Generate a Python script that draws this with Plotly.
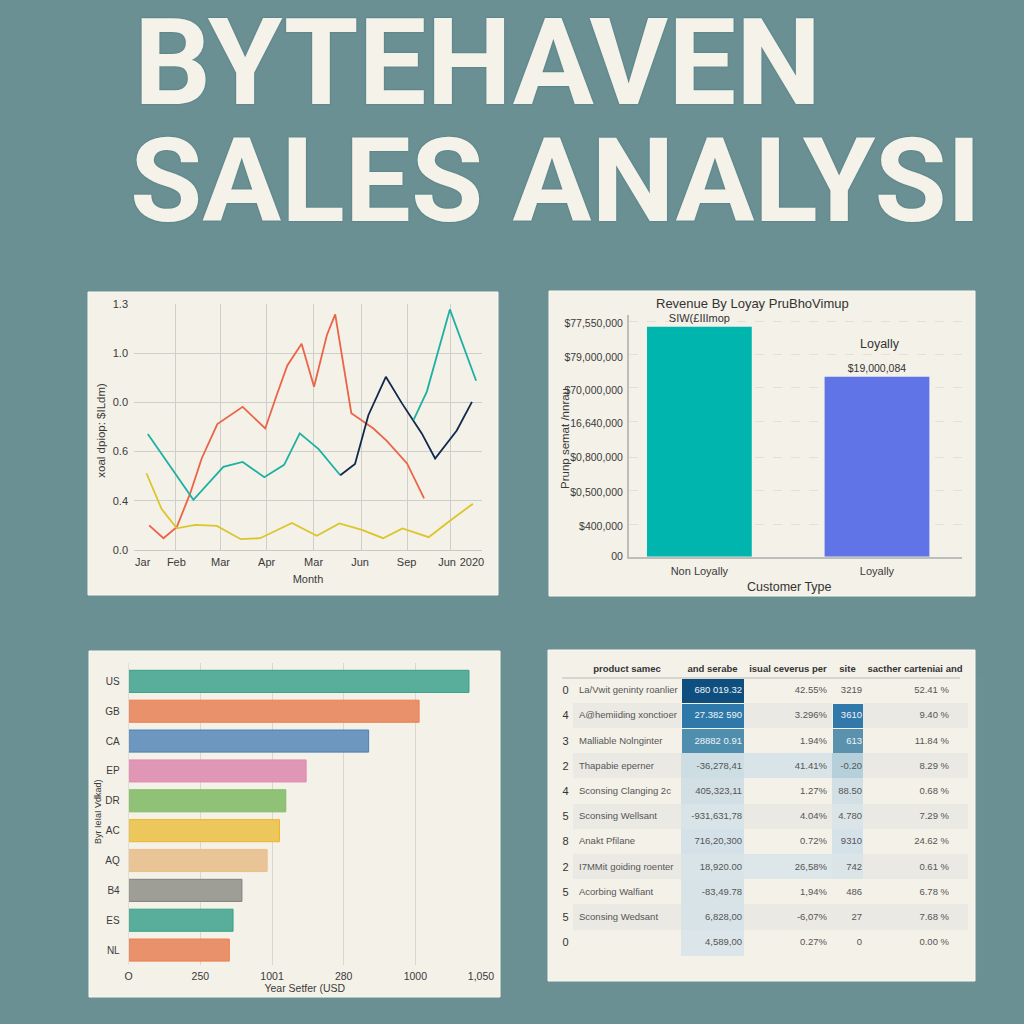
import plotly.graph_objects as go

W = H = 1024
BG = "#6a9094"
PANEL = "#f4f1e8"
INK = "#3a3a3a"
SANS = "Liberation Sans"

# ---------- title ----------
title_lines = ["BYTEHAVEN", "SALES ANALYSI"]

# ---------- line chart ----------
line_yticks = ["0.0", "0.4", "0.6", "0.0", "1.0", "1.3"]
line_ypos = [0, 1, 2, 3, 4, 5]
month_labels = ["Jar", "Feb", "Mar", "Apr", "Mar", "Jun", "Sep", "Jun", "2020"]
month_pos = [0.19, 0.92, 1.88, 2.88, 3.9, 4.91, 5.92, 6.8, 7.34]
month_grid = [0.9, 1.88, 2.88, 3.9, 4.93, 5.93, 6.87, 7.56]

red_x = [0.33, 0.64, 0.93, 1.22, 1.47, 1.81, 2.36, 2.85, 3.10, 3.33, 3.64, 3.91, 4.19, 4.37, 4.72, 5.20, 5.49, 5.93, 6.30]
red_y = [0.50, 0.24, 0.47, 1.15, 1.86, 2.56, 2.91, 2.47, 3.15, 3.75, 4.19, 3.32, 4.37, 4.79, 2.78, 2.47, 2.22, 1.76, 1.05]
teal_x = [0.30, 1.29, 1.94, 2.36, 2.83, 3.26, 3.60, 4.01, 4.48]
teal_y = [2.36, 1.02, 1.69, 1.79, 1.48, 1.73, 2.37, 2.05, 1.52]
navy_x = [4.48, 4.80, 5.09, 5.47, 5.82, 6.07, 6.25, 6.54, 7.01, 7.34]
navy_y = [1.52, 1.75, 2.74, 3.52, 2.98, 2.61, 2.37, 1.86, 2.43, 3.01]
teal2_x = [6.07, 6.36, 6.86, 7.43]
teal2_y = [2.64, 3.22, 4.89, 3.44]
yellow_x = [0.27, 0.60, 0.93, 1.33, 1.80, 2.32, 2.74, 3.43, 3.97, 4.46, 4.95, 5.41, 5.83, 6.40, 6.87, 7.36]
yellow_y = [1.56, 0.83, 0.44, 0.51, 0.49, 0.22, 0.24, 0.55, 0.29, 0.54, 0.41, 0.24, 0.44, 0.26, 0.60, 0.94]

# ---------- loyalty bars ----------
loyal_cats = ["Non Loyally", "Loyally"]
loyal_vals = [6.90, 5.40]
loyal_text = ["SIW(£IIImop", "$19,000,084"]
loyal_colors = ["#00b5ad", "#6074e8"]
loyal_ticks = ["00", "$400,000", "$0,500,000", "$0,800,000", "16,640,000", "$70,000,000", "$79,000,000", "$77,550,000"]
loyal_tickpos = [0, 0.9, 1.93, 2.97, 3.99, 4.99, 5.98, 7.0]
loyal_grid = [0.98, 2.0, 2.98, 4.07, 5.07, 6.07, 7.07]

# ---------- country bars ----------
countries = ["US", "GB", "CA", "EP", "DR", "AC", "AQ", "B4", "ES", "NL"]
country_vals = [1187, 1013, 837, 619, 548, 526, 483, 395, 364, 351]
country_fill = ["#58ae9b", "#e8916a", "#6e97c0", "#e096b5", "#8fc276", "#ecc75c", "#e9c496", "#9e9d96", "#58ae9b", "#e8916a"]
country_edge = ["#36a088", "#ee7f50", "#4a7fb5", "#e28db3", "#82bd66", "#f0b428", "#ebbf88", "#808080", "#36a088", "#ee7f50"]
country_tickpos = [0, 250, 500, 750, 1000, 1229]
country_ticks = ["O", "250", "1001", "280", "1000", "1,050"]

# ---------- table ----------
tbl_header = ["", "product samec", "and serabe", "isual ceverus per", "site", "sacther carteniai and"]
tbl_index = ["0", "4", "3", "2", "4", "5", "8", "2", "5", "5", "0"]
tbl_name = ["La/Vwit geninty roanlier", "A@hemiiding xonctioer", "Malliable Nolnginter", "Thapabie eperner",
            "Sconsing Clanging 2c", "Sconsing Wellsant", "Anakt Pfilane", "I7MMit goiding roenter",
            "Acorbing Walfiant", "Sconsing Wedsant", ""]
tbl_rev = ["680 019.32", "27.382 590", "28882 0.91", "-36,278,41", "405,323,11", "-931,631,78",
           "716,20,300", "18,920.00", "-83,49.78", "6,828,00", "4,589,00"]
tbl_per = ["42.55%", "3.296%", "1.94%", "41.41%", "1.27%", "4.04%", "0.72%", "26,58%", "1,94%", "-6,07%", "0.27%"]
tbl_site = ["3219", "3610", "613", "-0.20", "88.50", "4.780", "9310", "742", "486", "27", "0"]
tbl_last = ["52.41 %", "9.40 %", "11.84 %", "8.29 %", "0.68 %", "7.29 %", "24.62 %", "0.61 %", "6.78 %", "7.68 %", "0.00 %"]

BAND = "#ebe9e3"
band_col = [PANEL if i % 2 == 0 else BAND for i in range(10)] + [PANEL]
fill_idx = [PANEL] * 11
fill_rev = ["#0f4f80", "#2e78aa", "#4f8ead", "#ccdde4", "#d2e0e6", "#d8e4e8", "#d5e1e8", "#d8e4e8", "#d8e3e8", "#d8e3e8", "#dbe5ea"]
fill_per = list(band_col)
fill_per[3] = "#d8e4e8"
fill_per[7] = "#dde6e8"
fill_site = [PANEL, "#3279ab", "#5a92ad", "#b5cfdb", "#d2e0e6", "#dbe5e8", "#d6e2e9", "#dbe5e8", PANEL, BAND, PANEL]
line_rev = [PANEL, PANEL, PANEL] + fill_rev[3:]
line_site = [PANEL, PANEL, PANEL] + fill_site[3:]


def nb(items):
    # table cells wrap at ordinary spaces, so keep each one on a single line
    return [s.replace(" ", "\u00a0") for s in items]


def px(x0, x1):
    return [x0 / W, x1 / W]


def py(top, bottom):
    return [1 - bottom / H, 1 - top / H]


fig = go.Figure()

line_series = [
    (red_x, red_y, "#ea6448"),
    (teal_x, teal_y, "#1fb0a3"),
    (navy_x, navy_y, "#10294d"),
    (teal2_x, teal2_y, "#1fb0a3"),
    (yellow_x, yellow_y, "#dcc52b"),
]
for xs, ys, col in line_series:
    fig.add_trace(go.Scatter(x=xs, y=ys, mode="lines", line=dict(color=col, width=1.8), xaxis="x", yaxis="y", showlegend=False))

fig.add_trace(go.Bar(x=[0, 1], y=loyal_vals, width=0.59, marker=dict(color=loyal_colors, line=dict(width=0)),
                     text=loyal_text, textposition="outside", cliponaxis=False,
                     textfont=dict(family=SANS, size=[11, 10.5], color="#333"), xaxis="x2", yaxis="y2", showlegend=False))

fig.add_trace(go.Bar(x=country_vals, y=countries, orientation="h", width=0.74,
                     marker=dict(color=country_fill, line=dict(color=country_edge, width=1)),
                     xaxis="x3", yaxis="y3", showlegend=False))

fig.add_trace(go.Table(
    domain=dict(x=px(557, 967), y=py(657, 975)),
    columnwidth=[16, 108, 63, 88, 31, 104],
    header=dict(values=nb(tbl_header), height=21, align="center", fill_color="rgba(0,0,0,0)", line_width=0,
                font=dict(family=SANS, size=9.5, color="#333", weight="bold")),
    cells=dict(values=[[""] * 11] * 6, height=25.2,
               fill_color=[fill_idx, band_col, fill_rev, fill_per, fill_site, band_col],
               line=dict(color=[fill_idx, band_col, line_rev, fill_per, line_site, band_col], width=1),
               font=dict(size=1)),
))
cell_white = ["#f0f4f6"] * 3 + ["#555"] * 8
fig.add_trace(go.Table(
    domain=dict(x=px(560, 957), y=py(657, 975)),
    columnwidth=[11, 119, 60, 85, 35, 87],
    header=dict(values=[""] * 6, height=21, fill_color="rgba(0,0,0,0)", line_width=0, font=dict(size=1)),
    cells=dict(values=[tbl_index, nb(tbl_name), nb(tbl_rev), tbl_per, tbl_site, nb(tbl_last)], height=25.2,
               align=["center", "left", "right", "right", "right", "right"],
               fill_color="rgba(0,0,0,0)", line_width=0,
               font=dict(family=SANS, size=[11, 9.5, 9.5, 9.5, 9.5, 9.5],
                         color=[["#333"] * 11, ["#555"] * 11, cell_white,
                                ["#555"] * 11, ["#555"] + ["#f0f4f6"] * 2 + ["#555"] * 8, ["#555"] * 11])),
))

axis_font = dict(family=SANS, size=11, color=INK)
title_font = dict(family=SANS, size=11, color=INK)
small_font = dict(family=SANS, size=10.5, color=INK)
tiny_font = dict(family=SANS, size=10, color=INK)

panels = [(88, 292, 498, 595), (549, 291, 975, 596), (89, 651, 500, 997), (548, 650, 975, 981)]
shapes = [dict(type="rect", xref="paper", yref="paper", x0=a / W, x1=c / W, y0=1 - d / H, y1=1 - b / H,
               fillcolor=PANEL, line=dict(color="#f9f8f3", width=1), layer="below") for a, b, c, d in panels]
shapes.append(dict(type="line", xref="paper", yref="paper", x0=562 / W, x1=960 / W, y0=1 - 678 / H, y1=1 - 678 / H,
                   line=dict(color="#b9b9b5", width=1.2), layer="above"))


def note(text, x, y, size, angle=0, color="#333", family=SANS, **kw):
    return dict(text=text, x=x / W, y=1 - y / H, xref="paper", yref="paper", xanchor="center", yanchor="middle",
                showarrow=False, textangle=angle, font=dict(family=family, size=size, color=color, **kw))


annotations = [
    dict(text=title_lines[0], x=132 / W, y=1 - 62 / H, xref="paper", yref="paper", xanchor="left", yanchor="middle",
         showarrow=False, font=dict(family="Roboto", size=120.8, color="#f5f2e9", weight=700, shadow="0 0 2px #3f7378")),
    dict(text=title_lines[1], x=128 / W, y=1 - 180.5 / H, xref="paper", yref="paper", xanchor="left", yanchor="middle",
         showarrow=False, font=dict(family="Roboto", size=117.5, color="#f5f2e9", weight=700, shadow="0 0 2px #3f7378")),
    note("Revenue By Loyay PruBhoVimup", 752.5, 303, 13),
    note("Loyally", 880, 343.5, 12.5),
    note("Customer Type", 789, 587, 12.5),
    note("xoal dpiop: $ILdm)", 100.7, 430, 11.5, -90, INK),
    note("Prunp semat /nnrau", 565, 439, 11.5, -90, INK),
    note("Byr IeIaI Vdkad)", 98, 812, 9, -90, INK),
]

fig.update_layout(
    width=W, height=H, margin=dict(l=0, r=0, t=0, b=0, autoexpand=False), paper_bgcolor=BG, plot_bgcolor="rgba(0,0,0,0)",
    shapes=shapes, annotations=annotations, showlegend=False,
    font=dict(family=SANS),
    xaxis=dict(domain=px(134, 482), anchor="y", range=[0, 7.558], tickmode="array", tickvals=month_pos, ticktext=month_labels,
               showgrid=False, zeroline=False, showline=True, linecolor="#c8c8c4", tickfont=axis_font, ticks="", ticklabelstandoff=2,
               minor=dict(tickmode="array", tickvals=month_grid, showgrid=True, gridcolor="#cfcfca", gridwidth=1, ticks=""),
               title=dict(text="Month", font=title_font, standoff=8)),
    yaxis=dict(domain=py(304, 550), anchor="x", range=[0, 5], tickmode="array", tickvals=line_ypos, ticktext=line_yticks,
               showgrid=True, gridcolor="#cfcfca", zeroline=False, tickfont=axis_font, ticks="", ticklabelstandoff=5),
    xaxis2=dict(domain=px(628.7, 961.7), anchor="y2", range=[-0.398, 1.477], tickmode="array", tickvals=[0, 1], ticktext=loyal_cats,
                showgrid=False, zeroline=False, showline=True, linecolor="#bdbdb9", linewidth=1.5, tickfont=axis_font, ticks="", ticklabelstandoff=3),
    yaxis2=dict(domain=py(315, 556.7), anchor="x2", range=[0, 7.25], tickmode="array", tickvals=loyal_tickpos, ticktext=loyal_ticks,
                showgrid=False, zeroline=False, showline=True, linecolor="#bdbdb9", linewidth=1.5, tickfont=small_font, ticks="", ticklabelstandoff=2,
                minor=dict(tickmode="array", tickvals=loyal_grid, showgrid=True, gridcolor="#e2e0d8", griddash="dash", gridwidth=1, ticks="")),
    xaxis3=dict(domain=px(128.7, 481), anchor="y3", range=[0, 1229], tickmode="array", tickvals=country_tickpos, ticktext=country_ticks,
                showgrid=True, gridcolor="#d9d7d0", zeroline=False, tickfont=small_font, ticks="", ticklabelstandoff=3,
                title=dict(text="Year Setfer (USD", font=small_font, standoff=4)),
    yaxis3=dict(domain=py(663, 965), anchor="x3", range=[9.5, -0.615], type="category", categoryorder="array", categoryarray=countries,
                showgrid=False, zeroline=False, showline=True, linecolor="#e0ded6", tickfont=tiny_font, ticks="", ticklabelstandoff=6),
)

fig.write_html("out.html", config=dict(displayModeBar=False),
               post_script="document.body.style.margin='0';document.body.style.overflow='hidden';")
